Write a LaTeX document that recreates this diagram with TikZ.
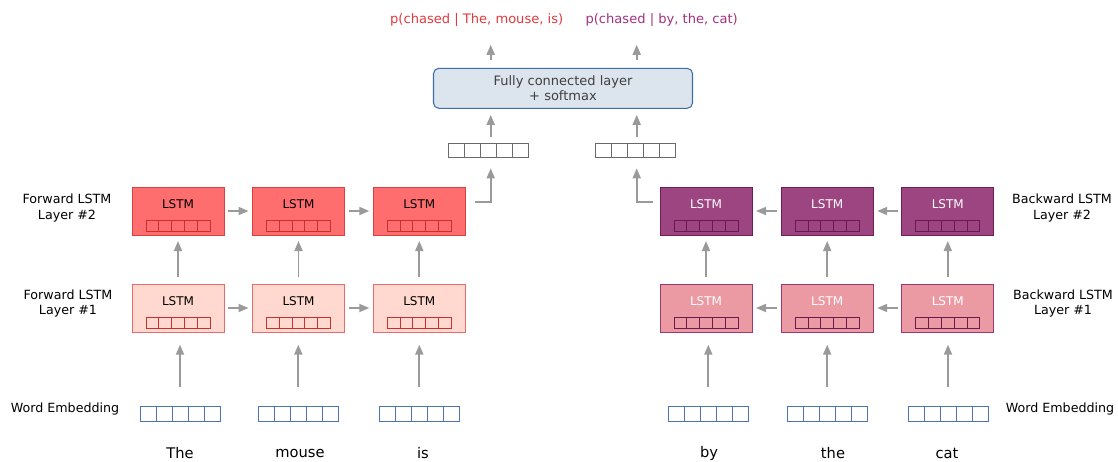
\documentclass[tikz,border=0pt]{standalone}
\usepackage{fontspec}
\setmainfont{DejaVu Sans}
\usetikzlibrary{arrows.meta}
\definecolor{fwdA}{HTML}{FF6E6E}
\definecolor{fwdAb}{HTML}{D9403F}
\definecolor{fwdB}{HTML}{FFD9CF}
\definecolor{fwdBb}{HTML}{E86A6A}
\definecolor{fwdC}{HTML}{C8302E}
\definecolor{bwdA}{HTML}{9D4580}
\definecolor{bwdAb}{HTML}{6E1F5A}
\definecolor{bwdB}{HTML}{EB9AA3}
\definecolor{bwdBb}{HTML}{9A3A70}
\definecolor{bwdC}{HTML}{6A1A4F}
\definecolor{embc}{HTML}{4A74B6}
\definecolor{vecc}{HTML}{6A6A6A}
\definecolor{fcfill}{HTML}{DCE4EE}
\definecolor{fcdraw}{HTML}{3F6FA8}
\definecolor{arrc}{HTML}{9A9A9A}
\definecolor{outred}{HTML}{E0393E}
\definecolor{outpur}{HTML}{A2307F}
\newcommand\cellrow[6]{% name cx cy w h color
  \node[draw=#6, line width=0.7pt, minimum width=#4*0.75pt, minimum height=#5*0.75pt, inner sep=0pt, outer sep=0pt] (#1) at (#2,#3) {};
  \foreach \k in {1,...,4} \draw[#6, line width=0.7pt] ({#2-#4/2+#4/5*\k},{#3-#5/2}) -- ++(0,#5);
}
\newcommand\lstmbox[6]{% name cx cy fill draw textcolor
  \node[lstm, fill=#4, draw=#5] (#1) at (#2,#3) {};
  \node[font=\fontsize{9}{10}\selectfont, text=#6] (#1t) at (#2,{#3-7}) {LSTM};
}
\tikzset{
  lstm/.style={minimum width=92*0.75pt, minimum height=48*0.75pt, inner sep=0pt, outer sep=0pt, line width=0.7pt},
  arr/.style={draw=arrc, line width=1.3pt, -{Triangle[length=7.5pt,width=6pt]}},
  lbl/.style={font=\fontsize{9.5}{11.5}\selectfont, align=center, inner sep=0pt},
  word/.style={font=\fontsize{11}{13}\selectfont, inner sep=0pt}
}
\begin{document}
\begin{tikzpicture}[x=0.75pt,y=-0.75pt]
\useasboundingbox (0,0) rectangle (1118,461);
% forward layer 2 and 1
\lstmbox{f21}{178}{211}{fwdA}{fwdAb}{black}
\lstmbox{f22}{298.5}{211}{fwdA}{fwdAb}{black}
\lstmbox{f23}{419.3}{211}{fwdA}{fwdAb}{black}
\lstmbox{f11}{178}{308}{fwdB}{fwdBb}{black}
\lstmbox{f12}{298.5}{308}{fwdB}{fwdBb}{black}
\lstmbox{f13}{419.3}{308}{fwdB}{fwdBb}{black}
\foreach \n/\x in {f21/178,f22/298.5,f23/419.3} \cellrow{\n c}{\x}{226.3}{64}{10.7}{fwdC};
\foreach \n/\x in {f11/178,f12/298.5,f13/419.3} \cellrow{\n c}{\x}{323.3}{64}{10.7}{fwdC};
% backward
\lstmbox{b21}{706}{211}{bwdA}{bwdAb}{white}
\lstmbox{b22}{827.2}{211}{bwdA}{bwdAb}{white}
\lstmbox{b23}{947.8}{211}{bwdA}{bwdAb}{white}
\lstmbox{b11}{706}{308}{bwdB}{bwdBb}{white}
\lstmbox{b12}{827.2}{308}{bwdB}{bwdBb}{white}
\lstmbox{b13}{947.8}{308}{bwdB}{bwdBb}{white}
\foreach \n/\x in {b21/706,b22/827.2,b23/947.8} \cellrow{\n c}{\x}{226.3}{64}{10.7}{bwdC};
\foreach \n/\x in {b11/706,b12/827.2,b13/947.8} \cellrow{\n c}{\x}{323.3}{64}{10.7}{bwdC};
% embeddings
\cellrow{e1}{180}{414}{80}{14.3}{embc}
\cellrow{e2}{298.3}{414}{80}{14.3}{embc}
\cellrow{e3}{419.3}{414}{80}{14.3}{embc}
\cellrow{e4}{708.3}{414}{80}{14.3}{embc}
\cellrow{e5}{827.2}{414}{80}{14.3}{embc}
\cellrow{e6}{948}{414}{80}{14.3}{embc}
% words
\node[word] (w1) at (180,453) {The};
\node[word] (w2) at (300,453) {mouse};
\node[word] (w3) at (423,453) {is};
\node[word] (w4) at (709,453) {by};
\node[word] (w5) at (833,453) {the};
\node[word] (w6) at (947,453) {cat};
% output vectors
\cellrow{v1}{488.3}{150.5}{80}{14.3}{vecc}
\cellrow{v2}{635}{150.5}{80}{14.3}{vecc}
% FC
\node[draw=fcdraw, fill=fcfill, line width=0.8pt, rounded corners=4pt, minimum width=259*0.75pt, minimum height=40*0.75pt, inner sep=0pt, align=center, font=\fontsize{9.75}{11.25}\selectfont, text=black!75] (fc) at (563,88.3) {Fully connected layer\\+ softmax};
% output labels
\node[font=\fontsize{9.8}{11}\selectfont, text=outred, inner sep=0pt] (o1) at (476.7,20) {p(chased | The, mouse, is)};
\node[font=\fontsize{9.8}{11}\selectfont, text=outpur, inner sep=0pt] (o2) at (661.7,20) {p(chased | by, the, cat)};
% side labels
\node[lbl] (l1) at (67,208) {Forward LSTM\\Layer \#2};
\node[lbl] (l2) at (68,303.5) {Forward LSTM\\Layer \#1};
\node[lbl] (l3) at (1062,208) {Backward LSTM\\Layer \#2};
\node[lbl] (l4) at (1063,303.5) {Backward LSTM\\Layer \#1};
\node[lbl] (l5) at (65,408.5) {Word Embedding};
\node[lbl] (l6) at (1060,408.5) {Word Embedding};
% arrows horizontal
\draw[arr, shorten <=3pt, shorten >=3pt] (f21) -- (f22);
\draw[arr, shorten <=3pt, shorten >=3pt] (f22) -- (f23);
\draw[arr, shorten <=3pt, shorten >=3pt] (f11) -- (f12);
\draw[arr, shorten <=3pt, shorten >=3pt] (f12) -- (f13);
\draw[arr, shorten <=3pt, shorten >=3pt] (b23) -- (b22);
\draw[arr, shorten <=3pt, shorten >=3pt] (b22) -- (b21);
\draw[arr, shorten <=3pt, shorten >=3pt] (b13) -- (b12);
\draw[arr, shorten <=3pt, shorten >=3pt] (b12) -- (b11);
% vertical between layers
\foreach \a/\b in {f11/f21,f12/f22,f13/f23,b11/b21,b12/b22,b13/b23}
  \draw[arr, shorten <=5pt, shorten >=4.5pt] (\a.north) -- (\b.south);
% embeddings to layer 1
\foreach \a/\b in {e1/f11,e2/f12,e3/f13,e4/b11,e5/b12,e6/b13}
  \draw[arr, shorten <=15pt, shorten >=9.5pt] (\a.north) -- (\b.south -| \a.north);
% elbows
\coordinate (c1) at (475,202.3);
\coordinate (c2) at (652.7,202.3);
\draw[arr, shorten >=8pt] (c1) -| (v1.south -| 490.7,0);
\draw[arr, shorten >=8pt] (c2) -| (v2.south -| 636.7,0);
% vectors to FC
\draw[arr, shorten <=5pt, shorten >=4.5pt] (v1.north -| 490.7,0) -- (fc.south -| 490.7,0);
\draw[arr, shorten <=5pt, shorten >=4.5pt] (v2.north -| 636.7,0) -- (fc.south -| 636.7,0);
% FC to outputs
\draw[arr, shorten <=5.5pt] (fc.north -| 490.7,0) -- ++(0,-23);
\draw[arr, shorten <=5.5pt] (fc.north -| 636.7,0) -- ++(0,-23);
\end{tikzpicture}
\end{document}
